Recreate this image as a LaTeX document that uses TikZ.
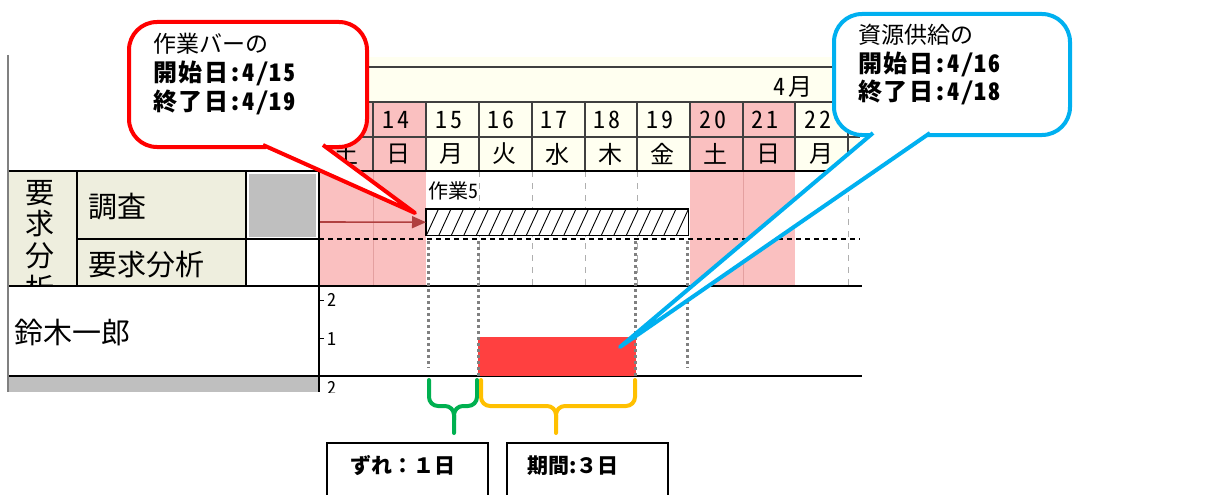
\documentclass[tikz,border=0pt]{standalone}
\usepackage{fontspec}
\newfontfamily\jp[RawFeature=+hwid]{Noto Sans CJK JP}
\newfontfamily\jpf{Noto Sans CJK JP}
\usetikzlibrary{arrows.meta}
\definecolor{pinkc}{RGB}{250,192,192}
\definecolor{pinkline}{RGB}{228,160,160}
\definecolor{cream}{RGB}{255,255,240}
\definecolor{beige}{RGB}{238,238,222}
\definecolor{grayc}{RGB}{191,191,191}
\definecolor{redbar}{RGB}{255,64,64}
\definecolor{calred}{RGB}{255,0,0}
\definecolor{calblue}{RGB}{0,176,240}
\definecolor{brgreen}{RGB}{0,176,80}
\definecolor{bryellow}{RGB}{255,192,0}
\definecolor{arrowc}{RGB}{176,64,64}
\definecolor{dotgray}{RGB}{128,128,128}
\definecolor{gridgray}{RGB}{175,175,175}
\definecolor{hdrline}{RGB}{64,64,64}
\begin{document}
\begin{tikzpicture}[x=1pt,y=-1pt,
  hdr/.style={draw=hdrline,line width=1.2pt},
  blk/.style={draw=black,line width=2pt},
  gdash/.style={draw=gridgray,line width=1pt,dash pattern=on 6pt off 6pt},
  pkl/.style={draw=pinkline,line width=1pt},
  dotl/.style={draw=dotgray,line width=3pt,dash pattern=on 3pt off 3pt},
  daytxt/.style={font=\jp\fontsize{24}{24}\selectfont\addfontfeature{LetterSpace=12},inner sep=0pt},
  bigtxt/.style={font=\jp\fontsize{29}{29}\selectfont,inner sep=0pt,anchor=west},
  smalltxt/.style={font=\jp\fontsize{18}{18}\selectfont,inner sep=0pt},
  calltxt/.style={font=\jp\fontsize{23}{23}\selectfont,inner sep=0pt,anchor=west},
  callbold/.style={font=\jp\bfseries\fontsize{24}{24}\selectfont\addfontfeature{LetterSpace=6},inner sep=0pt,anchor=west},
  boxtxt/.style={font=\jpf\bfseries\fontsize{21}{21}\selectfont,inner sep=0pt,anchor=west},
  brace/.style={line width=4pt,rounded corners=9pt,line cap=round},
  callshape/.style={line width=4pt,fill=white,rounded corners=28pt,inner sep=0pt,anchor=north west}
]
\useasboundingbox (0,0) rectangle (1205,495);
\fill[white] (0,0) rectangle (1205,495);

% backgrounds
\fill[cream] (320,57) rectangle (860,171);
\fill[pinkc] (320,102) rectangle (426,286);
\fill[pinkc] (690,102) rectangle (795,286);
\fill[beige] (8,171) rectangle (246,286);
\fill[grayc] (249,174) rectangle (316,237);
\fill[grayc] (8,377) rectangle (318,392);

% grid lines
\draw[hdr] (320,67) -- (860,67);
\draw[hdr] (320,102) -- (860,102);
\draw[hdr] (320,137) -- (860,137);
\foreach \x in {373,426,479,532,585,637,690,743,795,848}
  \draw[hdr] (\x,102) -- (\x,171);
\foreach \x in {479,532,585,637,848}
  \draw[gdash] (\x,171) -- (\x,286);
\foreach \x in {373,743}
  \draw[pkl] (\x,171) -- (\x,286);
\draw[blk] (8,171) -- (860,171);
\draw[blk] (77,239) -- (319,239);
\draw[black,line width=1.5pt,dash pattern=on 5pt off 4pt] (319,239) -- (860,239);
\draw[blk] (8,286) -- (862,286);
\draw[blk] (8,376) -- (862,376);
\draw[blk] (77,171) -- (77,286);
\draw[blk] (246,171) -- (246,286);
\draw[blk] (319,171) -- (319,392);
\draw[draw=dotgray,line width=2pt] (8,55) -- (8,392);

% header texts
\node[daytxt,anchor=east] (month) at (813,87) {4月};
\foreach \i/\d/\w in {0/13/土,1/14/日,2/15/月,3/16/火,4/17/水,5/18/木,6/19/金,7/20/土,8/21/日,9/22/月}{
  \node[daytxt] (d\d) at ({320+52.8*\i+23},120) {\d};
  \node[daytxt] (w\d) at ({320+52.8*\i+26},154) {\w};
}

% left table texts
\begin{scope}
  \clip (8,171) rectangle (77,285);
  \node[bigtxt,anchor=center] (v1) at (40,193) {要};
  \node[bigtxt,anchor=center] (v2) at (40,224) {求};
  \node[bigtxt,anchor=center] (v3) at (40,256) {分};
  \node[bigtxt,anchor=center] (v4) at (40,288) {析};
\end{scope}
\node[bigtxt] (chosa) at (88,207) {調査};
\node[bigtxt] (yokyu) at (88,265) {要求分析};
\node[bigtxt] (suzuki) at (14,333) {鈴木一郎};

% y axis ticks
\draw[black,line width=1pt] (319,300) -- (324,300);
\draw[black,line width=1pt] (319,338) -- (324,338);
\node[smalltxt] (y2) at (332,300) {2};
\node[smalltxt] (y1) at (332,339) {1};
\begin{scope}
  \clip (319,377) rectangle (360,392);
  \node[smalltxt] (y0) at (332,388) {2};
\end{scope}

% task bar
\node[font=\jp\fontsize{20}{20}\selectfont,inner sep=0pt,anchor=west] (t5) at (428,191) {作業5};
\node[fill=white,minimum width=262pt,minimum height=26pt,inner sep=0pt,anchor=north west] (bar) at (426,209) {};
\begin{scope}
  \clip (bar.south west) rectangle (bar.north east);
  \foreach \k in {0,...,22}
    \draw[line width=0.9pt] ({426+12.5*\k-12},235) -- ({426+12.5*\k},209);
\end{scope}
\draw[line width=1.6pt] (bar.south west) rectangle (bar.north east);
\coordinate (arrs) at (320,222);
\draw[arrowc,line width=1.6pt,-{Triangle[length=14pt,width=12pt]}] (arrs) -- (bar.west);

% resource bar and dotted guides
\node[fill=redbar,minimum width=158pt,minimum height=39pt,inner sep=0pt,anchor=north west] (res) at (478,337) {};
\draw[dotl] (428,241) -- (428,368);
\draw[dotl] (478,241) -- (478,376);
\draw[dotl] (635,241) -- (635,376);
\draw[dotl] (687,241) -- (687,368);

% braces
\draw[brace,brgreen] (429,380) -- (429,406) -- (454,406) -- (454,433);
\draw[brace,brgreen] (454,420) -- (454,406) -- (477,406) -- (477,380);
\draw[brace,bryellow] (481,380) -- (481,406) -- (556,406) -- (556,433);
\draw[brace,bryellow] (556,420) -- (556,406) -- (635,406) -- (635,380);

% bottom boxes
\draw[line width=2pt] (327,497) -- (327,443) -- (488,443) -- (488,497);
\draw[line width=2pt] (507,497) -- (507,443) -- (668,443) -- (668,497);
\node[boxtxt] (zure) at (350,466) {ずれ：１日};
\node[boxtxt] (kikan) at (527,466) {期間:３日};

% red callout
\node[callshape,draw=calred,minimum width=238pt,minimum height=125pt] (cr) at (127,20) {};
\coordinate (crtip) at (415,213);
\fill[white] (263,145) -- (crtip) -- (323,145) -- cycle;
\fill[white] (266,140) rectangle (320,150);
\draw[calred,line width=4pt,line join=round] (263,145) -- (crtip) -- (323,145);
\node[calltxt] (cr1) at (153,44) {作業バーの};
\node[callbold] (cr2) at (153,73) {開始日:4/15};
\node[callbold] (cr3) at (153,102) {終了日:4/19};

% blue callout
\node[callshape,draw=calblue,minimum width=236pt,minimum height=121pt] (cb) at (832,12) {};
\coordinate (cbtip) at (620,347);
\fill[white] (873,133) -- (cbtip) -- (930,133) -- cycle;
\fill[white] (876,128) rectangle (927,138);
\draw[calblue,line width=4pt,line join=round] (873,133) -- (cbtip) -- (930,133);
\node[calltxt] (cb1) at (858,35) {資源供給の};
\node[callbold] (cb2) at (858,64) {開始日:4/16};
\node[callbold] (cb3) at (858,92) {終了日:4/18};
\end{tikzpicture}
\end{document}
